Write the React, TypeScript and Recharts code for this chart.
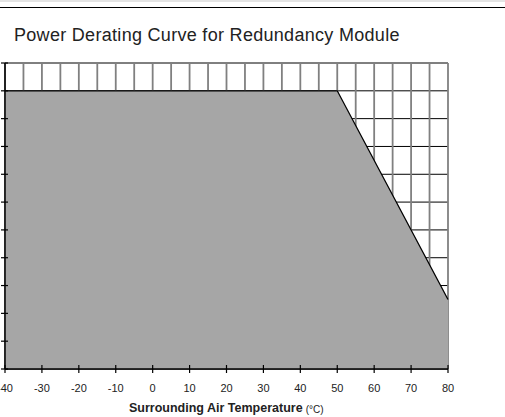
import { AreaChart, Area, XAxis, YAxis, CartesianGrid } from "recharts";

// curve points: temperature (°C) vs output power (%)
const temps = [-40, 50, 80];
const power = [100, 100, 25];

// grid every 5 °C, labels every 10 °C
const xTicks = [-40, -35, -30, -25, -20, -15, -10, -5, 0, 5, 10, 15, 20, 25, 30, 35, 40, 45, 50, 55, 60, 65, 70, 75, 80];
const xLabels = [-40, -30, -20, -10, 0, 10, 20, 30, 40, 50, 60, 70, 80];
const yTicks = [0, 10, 20, 30, 40, 50, 60, 70, 80, 90, 100, 110];

const data = temps.map((t, i) => ({ temp: t, power: power[i] }));

const font = '"Liberation Sans", Arial, sans-serif';

const XTick = (props: any) => {
  const { x, y, payload } = props;
  if (!xLabels.includes(payload.value)) return <g />;
  return (
    <g>
      <line x1={x} x2={x} y1={y - 4} y2={y + 4} stroke="#000" strokeWidth={1.2} />
      <text x={x} y={y + 23} textAnchor="middle" fontSize={11} fill="#222" fontFamily={font}>
        {payload.value}
      </text>
    </g>
  );
};

const YTick = (props: any) => {
  const { x, y } = props;
  return <line x1={x - 4} x2={x + 3} y1={y} y2={y} stroke="#000" strokeWidth={1.2} />;
};

const App = () => {
  return (
    <div style={{ position: "absolute", left: 0, top: 0, width: 505, height: 417, background: "#fff", fontFamily: font }}>
      <div style={{ position: "absolute", left: 0, top: 0, width: 505, height: 2, background: "#e4e4e4" }} />
      <div style={{ position: "absolute", left: 0, top: 7, width: 505, height: 1, background: "#000" }} />
      <div style={{ position: "absolute", left: 14, top: 26, fontSize: 18, letterSpacing: 0.3, lineHeight: "18px", color: "#222", whiteSpace: "nowrap" }}>
        Power Derating Curve for Redundancy Module
      </div>

      <div style={{ position: "absolute", left: 0, top: 0 }}>
        <AreaChart width={505} height={417} data={data} margin={{ top: 63, right: 57, bottom: 0, left: 0 }}>
          <CartesianGrid vertical={false} stroke="#000" strokeWidth={1} />
          <CartesianGrid horizontal={false} stroke="#808080" strokeWidth={1.8} />
          <XAxis
            dataKey="temp"
            type="number"
            domain={[-40, 80]}
            ticks={xTicks}
            interval={0}
            height={48}
            tickSize={0}
            tickMargin={0}
            tickLine={false}
            tick={<XTick />}
            axisLine={{ stroke: "#000", strokeWidth: 1.5 }}
          />
          <YAxis
            type="number"
            domain={[0, 110]}
            ticks={yTicks}
            interval={0}
            width={5}
            tickSize={0}
            tickMargin={0}
            tickLine={false}
            tick={<YTick />}
            axisLine={{ stroke: "#000", strokeWidth: 1.5 }}
          />
          <Area
            type="linear"
            dataKey="power"
            fill="#a6a6a6"
            fillOpacity={1}
            stroke="#000"
            strokeWidth={1.3}
            isAnimationActive={false}
            dot={false}
            activeDot={false}
          />
        </AreaChart>
      </div>

      <div style={{ position: "absolute", left: 129, top: 400, whiteSpace: "nowrap", color: "#222", lineHeight: "13px" }}>
        <span style={{ fontSize: 12.5, fontWeight: "bold" }}>Surrounding Air Temperature</span>
        <span style={{ fontSize: 10, marginLeft: 3, position: "relative", top: 1 }}>(°C)</span>
      </div>
    </div>
  );
};

export default App;
